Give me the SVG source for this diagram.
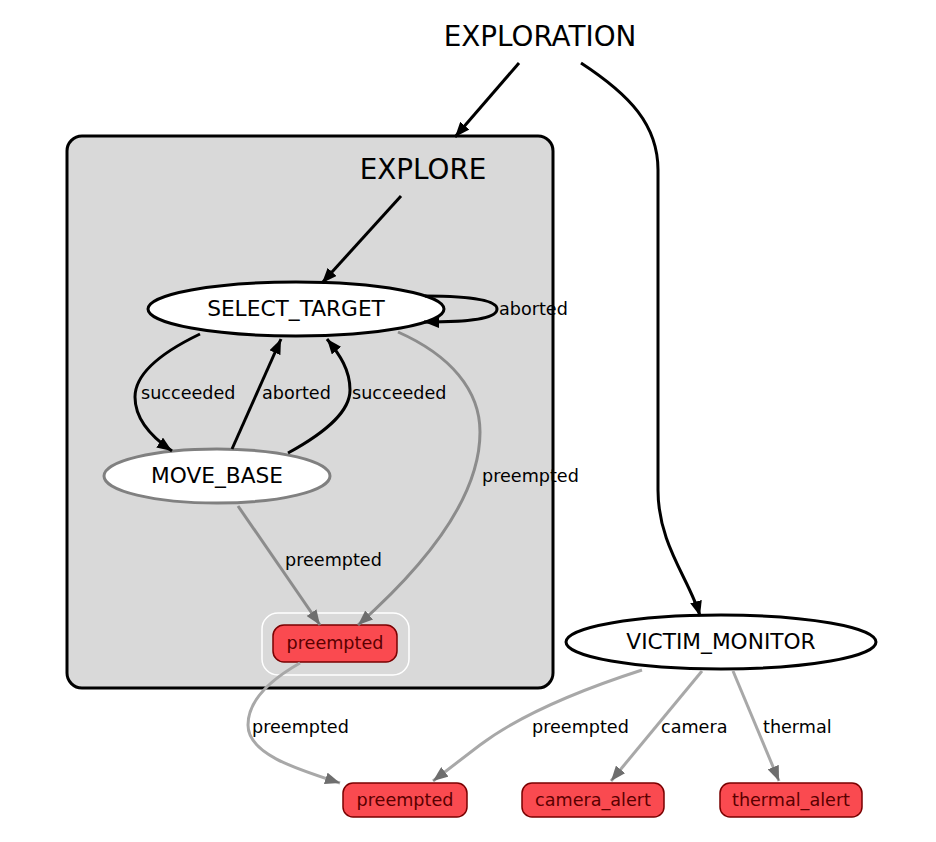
<svg xmlns="http://www.w3.org/2000/svg" width="936" height="842" viewBox="0 0 936 842">
<style>
text{font-family:"DejaVu Sans",sans-serif;fill:#000}
.cl{font-size:27.8px}
.nl{font-size:21.7px;text-anchor:middle}
.el{font-size:17.6px}
.rl{font-size:17.6px;text-anchor:middle;fill:#5a0000}
.blk{fill:none;stroke:#000;stroke-width:3}
.g1{fill:none;stroke:#8c8c8c;stroke-width:3}
.g2{fill:none;stroke:#a8a8a8;stroke-width:3}
.red{fill:#fa4a50;stroke:#7a0000;stroke-width:1.5}
</style>
<defs>
<marker id="ab" markerUnits="userSpaceOnUse" markerWidth="16" markerHeight="12" refX="15" refY="6" orient="auto" viewBox="0 0 16 12"><polygon points="0,0 15,6 0,12" fill="#000"/></marker>
<marker id="ag" markerUnits="userSpaceOnUse" markerWidth="16" markerHeight="12" refX="15" refY="6" orient="auto" viewBox="0 0 16 12"><polygon points="0,0 15,6 0,12" fill="#6e6e6e"/></marker>
</defs>
<rect width="936" height="842" fill="#fff"/>
<g id="EXPLORATION"><text class="cl" x="540" y="46" text-anchor="middle">EXPLORATION</text></g>
<g id="EXPLORE">
<rect x="67" y="136" width="486" height="552" rx="15" fill="#d9d9d9" stroke="#000" stroke-width="3"/>
<text class="cl" x="423" y="179" text-anchor="middle">EXPLORE</text>
</g>
<g id="SELECT_TARGET"><ellipse cx="296" cy="309" rx="148" ry="27" fill="#fff" stroke="#000" stroke-width="3"/><text class="nl" x="296" y="316">SELECT_TARGET</text></g>
<g id="MOVE_BASE"><ellipse cx="217" cy="476" rx="113" ry="27" fill="#fff" stroke="#808080" stroke-width="3"/><text class="nl" x="217" y="483">MOVE_BASE</text></g>
<g id="EXPLORE_preempted">
<rect x="262" y="613" width="147" height="62" rx="16" fill="none" stroke="#fff" stroke-width="1.5"/>
<rect x="273" y="625" width="124" height="37" rx="11" class="red"/>
<text class="rl" x="335" y="649">preempted</text>
</g>
<g id="VICTIM_MONITOR"><ellipse cx="721" cy="642" rx="155" ry="27" fill="#fff" stroke="#000" stroke-width="3"/><text class="nl" x="721" y="649">VICTIM_MONITOR</text></g>
<g id="preempted"><rect x="343" y="783" width="124" height="34" rx="10" class="red"/><text class="rl" x="405" y="806">preempted</text></g>
<g id="camera_alert"><rect x="522" y="783" width="142" height="34" rx="10" class="red"/><text class="rl" x="593" y="806">camera_alert</text></g>
<g id="thermal_alert"><rect x="720" y="783" width="142" height="34" rx="10" class="red"/><text class="rl" x="791" y="806">thermal_alert</text></g>
<g id="connectors">
<path class="blk" d="M519,63 L455,137" marker-end="url(#ab)"/>
<path class="blk" d="M581,63 C630,95 658,125 658,170 L658,490 C658,545 690,580 700,616" marker-end="url(#ab)"/>
<path class="blk" d="M401,196 L322,283" marker-end="url(#ab)"/>
<path class="blk" d="M425,296 C480,296 497,302 497,309 C497,317 480,322 424,322" marker-end="url(#ab)"/>
<text class="el" x="499" y="315">aborted</text>
<path class="blk" d="M200,334 C150,358 135,380 135,397 C135,418 150,436 172,451" marker-end="url(#ab)"/>
<text class="el" x="141" y="399">succeeded</text>
<path class="blk" d="M232,449 L281,339" marker-end="url(#ab)"/>
<text class="el" x="262" y="399">aborted</text>
<path class="blk" d="M288,453 C330,430 350,410 350,390 C350,370 340,355 327,339" marker-end="url(#ab)"/>
<text class="el" x="352" y="399">succeeded</text>
<path class="g1" d="M398,332 C450,355 480,390 480,432 C480,500 420,570 358,625" marker-end="url(#ag)"/>
<text class="el" x="482" y="482">preempted</text>
<path class="g1" d="M238,506 L320,625" marker-end="url(#ag)"/>
<text class="el" x="285" y="566">preempted</text>
<path class="g2" d="M300,663 C270,680 248,700 248,725 C248,755 300,770 340,783" marker-end="url(#ag)"/>
<text class="el" x="252" y="733">preempted</text>
<path class="g2" d="M642,670 C580,690 520,715 480,745 L433,781" marker-end="url(#ag)"/>
<text class="el" x="532" y="733">preempted</text>
<path class="g2" d="M702,671 L611,781" marker-end="url(#ag)"/>
<text class="el" x="661" y="733">camera</text>
<path class="g2" d="M733,671 L779,781" marker-end="url(#ag)"/>
<text class="el" x="763" y="733">thermal</text>
</g>
</svg>
